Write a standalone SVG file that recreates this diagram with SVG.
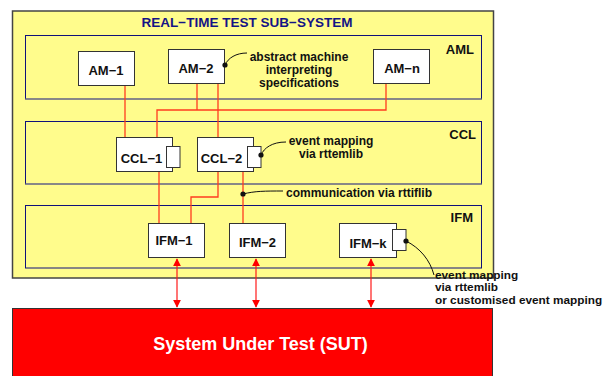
<svg xmlns="http://www.w3.org/2000/svg" width="613" height="376" viewBox="0 0 613 376">
<defs>
<style>
.t{font-family:"Liberation Sans",Arial,sans-serif;font-weight:bold;fill:#111}
.node{fill:#fff;stroke:#333;stroke-width:1}
.layer{fill:#fffc8c;stroke:#10107a;stroke-width:1}
.wire{fill:none;stroke:#ff3b1f;stroke-width:1.3}
.arr{fill:none;stroke:#ff1a1a;stroke-width:1.2}
.call{fill:none;stroke:#111;stroke-width:1}
</style>
<marker id="ah" viewBox="0 0 10 10" refX="9" refY="5" markerWidth="8" markerHeight="8" markerUnits="userSpaceOnUse" orient="auto-start-reverse">
<path d="M0,0 L10,5 L0,10 z" fill="#ff0000"/>
</marker>
</defs>
<rect width="613" height="376" fill="#fff"/>

<g id="subsystem">
<rect x="12.5" y="11" width="481" height="267" fill="#fffc8c" stroke="#444" stroke-width="1.5"/>
<text x="247" y="27" text-anchor="middle" style="font-family:'Liberation Sans',Arial,sans-serif;font-weight:bold;font-size:13.5px;fill:#141485">REAL−TIME TEST SUB−SYSTEM</text>
</g>

<g id="layer-aml">
<rect class="layer" x="25.5" y="35.5" width="456" height="63.5"/>
<line x1="25.5" y1="99" x2="481.5" y2="99" stroke="#888" stroke-width="1.5"/>
<text class="t" x="474" y="54" text-anchor="end" font-size="13">AML</text>
</g>
<g id="layer-ccl">
<rect class="layer" x="25.5" y="121.5" width="456" height="62.5"/>
<line x1="25.5" y1="184" x2="481.5" y2="184" stroke="#888" stroke-width="1.5"/>
<text class="t" x="476" y="139" text-anchor="end" font-size="13">CCL</text>
</g>
<g id="layer-ifm">
<rect class="layer" x="25.5" y="205.5" width="456" height="62.5"/>
<text class="t" x="473" y="222" text-anchor="end" font-size="13">IFM</text>
</g>

<g id="connectors">
<path class="wire" d="M125,85 V137"/>
<path class="wire" d="M197,83 V110"/>
<path class="wire" d="M157,137 V110 H386 V83"/>
<path class="wire" d="M218,83 V137"/>
<path class="wire" d="M159,171 V223"/>
<path class="wire" d="M218,171 V197 H191 V223"/>
<path class="wire" d="M243,171 V223"/>
<path class="arr" d="M177,259 V307" marker-start="url(#ah)" marker-end="url(#ah)"/>
<path class="arr" d="M256,259 V307" marker-start="url(#ah)" marker-end="url(#ah)"/>
<path class="arr" d="M371,259 V307" marker-start="url(#ah)" marker-end="url(#ah)"/>
</g>

<g id="am1">
<rect class="node" x="78.5" y="51.5" width="56" height="34"/>
<text class="t" x="106" y="75" text-anchor="middle" font-size="13">AM−1</text>
</g>
<g id="am2">
<rect class="node" x="168.5" y="49.5" width="56" height="34"/>
<text class="t" x="196" y="72.5" text-anchor="middle" font-size="13">AM−2</text>
</g>
<g id="amn">
<rect class="node" x="373.5" y="49.5" width="56" height="34"/>
<text class="t" x="402" y="72.5" text-anchor="middle" font-size="13">AM−n</text>
</g>
<g id="ccl1">
<rect class="node" x="116.5" y="137.5" width="56" height="34"/>
<rect class="node" x="166.5" y="146.5" width="13.5" height="21"/>
<text class="t" x="141.5" y="163" text-anchor="middle" font-size="13">CCL−1</text>
</g>
<g id="ccl2">
<rect class="node" x="197.5" y="137.5" width="56" height="34"/>
<rect class="node" x="247.5" y="146.5" width="13.5" height="21"/>
<text class="t" x="221.5" y="163" text-anchor="middle" font-size="13">CCL−2</text>
</g>
<g id="ifm1">
<rect class="node" x="148.5" y="223.5" width="56" height="34"/>
<text class="t" x="174" y="244.5" text-anchor="middle" font-size="13">IFM−1</text>
</g>
<g id="ifm2">
<rect class="node" x="229.5" y="223.5" width="56" height="34"/>
<text class="t" x="257.5" y="246.5" text-anchor="middle" font-size="13">IFM−2</text>
</g>
<g id="ifmk">
<rect class="node" x="339.5" y="223.5" width="57" height="34"/>
<rect class="node" x="392.5" y="229.5" width="13.5" height="21"/>
<text class="t" x="368" y="248" text-anchor="middle" font-size="13">IFM−k</text>
</g>

<g id="callouts">
<path class="call" d="M225,65 C228,58 236,53 247,53"/>
<circle cx="225" cy="65" r="2.6" fill="#111"/>
<text class="t" font-size="12" text-anchor="middle"><tspan x="299" y="61">abstract machine</tspan><tspan x="299" y="74">interpreting</tspan><tspan x="299" y="87">specifications</tspan></text>
<path class="call" d="M261,155 C264,148 272,142 286,142"/>
<circle cx="261" cy="155" r="2.6" fill="#111"/>
<text class="t" font-size="12" text-anchor="middle"><tspan x="331" y="145">event mapping</tspan><tspan x="331" y="158">via rttemlib</tspan></text>
<path class="call" d="M243,194 C255,191 265,191 283,191"/>
<circle cx="243" cy="194" r="2.6" fill="#111"/>
<text class="t" font-size="12" x="286" y="197">communication via rttiflib</text>
<path class="call" d="M406,241 C420,248 430,260 434,275"/>
<circle cx="406" cy="241" r="2.6" fill="#111"/>
<text class="t" font-size="11.8"><tspan x="435" y="278.5">event mapping</tspan><tspan x="435" y="291">via rttemlib</tspan><tspan x="435" y="303.5">or customised event mapping</tspan></text>
</g>

<g id="sut">
<rect x="12.5" y="308.5" width="480" height="72" fill="#ff0000" stroke="#333" stroke-width="1"/>
<text x="260.5" y="350" text-anchor="middle" style="font-family:'Liberation Sans',Arial,sans-serif;font-weight:bold;font-size:18px;fill:#fff">System Under Test (SUT)</text>
</g>
</svg>
